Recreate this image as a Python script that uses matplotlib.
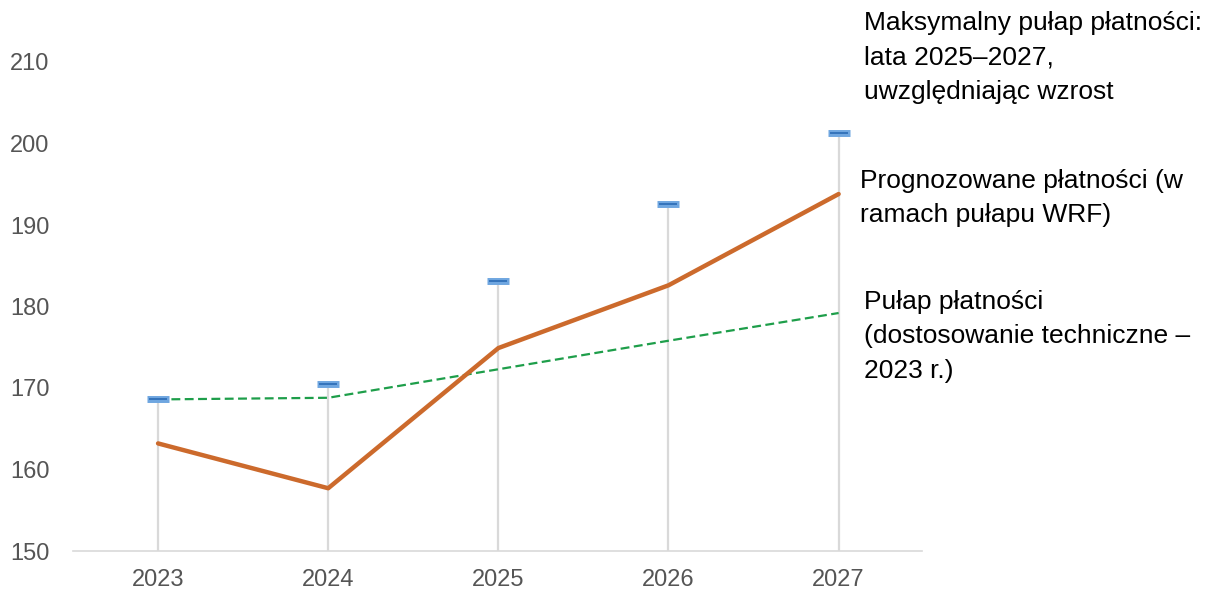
import matplotlib
matplotlib.use("Agg")
import matplotlib.pyplot as plt

plt.rcParams['font.family'] = ['Liberation Sans', 'DejaVu Sans']

years = [2023, 2024, 2025, 2026, 2027]
max_ceiling = [168.6, 170.5, 183.1, 192.6, 201.3]
forecast = [163.2, 157.7, 174.9, 182.6, 193.8]
ceiling_tech = [168.6, 168.8, 172.3, 175.8, 179.2]
yticks = [150, 160, 170, 180, 190, 200, 210]

label_max = "Maksymalny pułap płatności:\nlata 2025–2027,\nuwzględniając wzrost"
label_fc = "Prognozowane płatności (w\nramach pułapu WRF)"
label_tech = "Pułap płatności\n(dostosowanie techniczne –\n2023 r.)"

fig = plt.figure(figsize=(12.08, 5.91), dpi=100)
ax = fig.add_axes([73/1208, 40/591, (922-73)/1208, (551-62)/591])
ax.set_xlim(2022.5, 2027.49)
ax.set_ylim(150, 210)

ax.vlines(years, 150, max_ceiling, color='#d9d9d9', lw=1.6, zorder=1)
ax.plot(years, ceiling_tech, color='#1e9e4a', lw=1.6, ls=(0, (4, 2)), zorder=2)
ax.plot(years, forecast, color='#cc6a2c', lw=3.2, zorder=3, solid_capstyle='round')
ax.plot(years, max_ceiling, ls='none', marker='_', ms=16, mew=5, color='#6fa6e0', zorder=4, clip_on=False)
ax.plot(years, max_ceiling, ls='none', marker='_', ms=13, mew=1.3, color='#2f6fb8', zorder=5, clip_on=False)

for s in ['top', 'right', 'left']:
    ax.spines[s].set_visible(False)
ax.spines['bottom'].set_color('#d9d9d9')
ax.spines['bottom'].set_linewidth(1.2)
ax.set_xticks(years)
ax.set_yticks(yticks)
ax.tick_params(axis='both', length=0, labelsize=17, colors='#555555')
ax.tick_params(axis='y', pad=17)
ax.tick_params(axis='x', pad=13)

fs = 19
ls = 1.55
fig.text(864/1208, 1 - 11/591, label_max, fontsize=fs, va='top', ha='left', linespacing=ls)
fig.text(860/1208, 1 - 169/591, label_fc, fontsize=fs, va='top', ha='left', linespacing=ls)
fig.text(864/1208, 1 - 290/591, label_tech, fontsize=fs, va='top', ha='left', linespacing=ls)

fig.savefig('out.png', dpi=100)
